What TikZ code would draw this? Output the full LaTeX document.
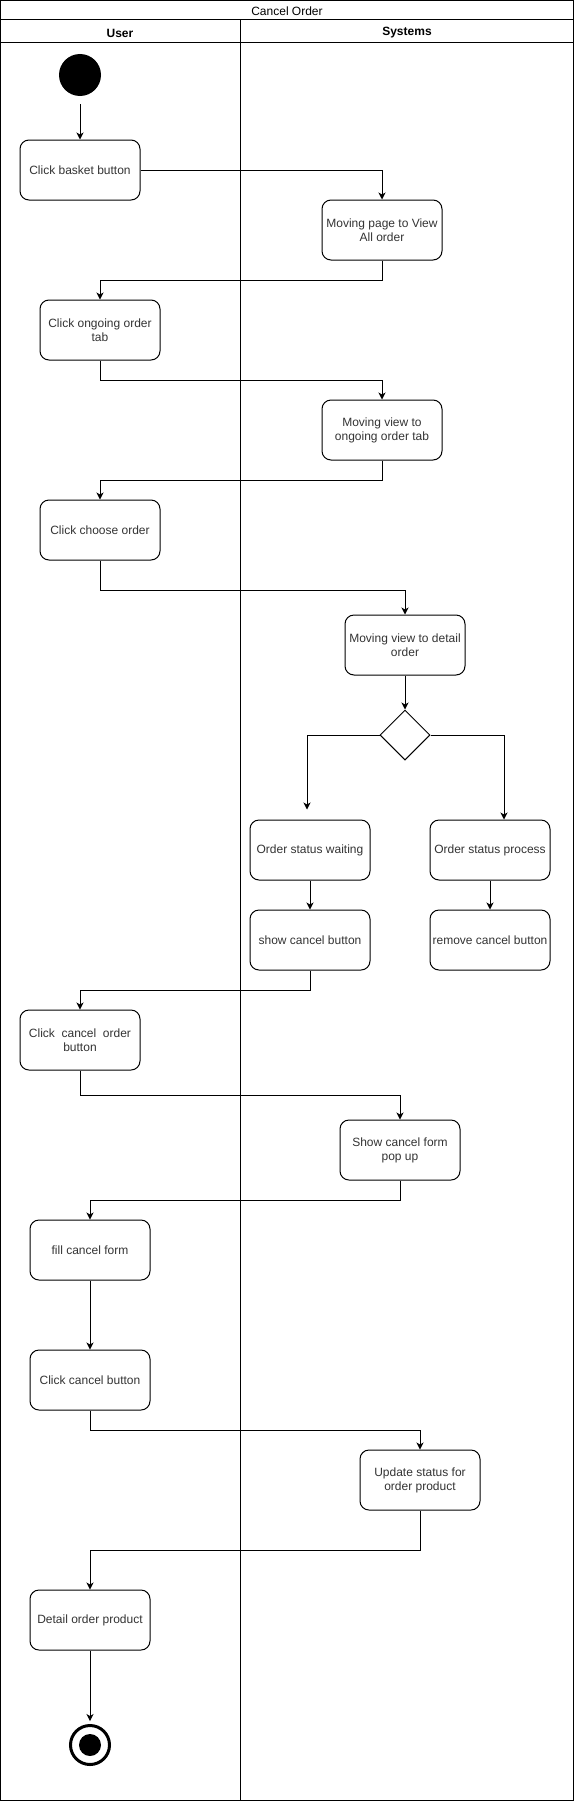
\documentclass[tikz,border=0pt]{standalone}
\usepackage{fontspec}
\setmainfont{Liberation Sans}
\usetikzlibrary{positioning, shapes.geometric, arrows.meta}
\definecolor{acttext}{HTML}{333333}

\begin{document}
\begin{tikzpicture}[x=1pt, y=-1pt,
      act/.style={rectangle, draw, line width=1pt, rounded corners=9pt,
        minimum width=120pt, minimum height=60pt, inner sep=2pt,
        align=center, text=acttext, font=\fontsize{12}{14}\selectfont},
      initst/.style={circle, fill=black, minimum size=42pt, inner sep=0pt},
      finalst/.style={circle, draw, line width=3pt, minimum size=39pt,
        inner sep=0pt, path picture={\fill[black]
        (path picture bounding box.center) circle (11pt);}},
      dec/.style={diamond, draw, line width=1pt, minimum size=50pt,
        inner sep=0pt, aspect=1},
      head/.style={font=\fontsize{12}{14}\selectfont},
      arr/.style={-{Stealth[length=7pt, width=7pt, inset=2pt]}, draw,
        line width=1pt}
    ]
    \useasboundingbox (0,0) rectangle (574,1801);
    % === Swimlane frame ===
    \draw[line width=1pt] (0.5,0.5) rectangle (573.5,1800.5);
    \draw[line width=1pt] (0.5,20) -- (573.5,20);
    \draw[line width=1pt] (0.5,43) -- (573.5,43);
    \draw[line width=1pt] (240,20) -- (240,1800.5);
    \node[head] (title) at (287,11.5) {Cancel Order};
    \node[head, font=\fontsize{12}{14}\selectfont\bfseries] (luser) at (120,33)
    {User};
    \node[head, font=\fontsize{12}{14}\selectfont\bfseries] (lsys) at (407,33)
    {Systems};
    % === Activities ===
    \node[initst] (start) at (80,75) {};
    \node[act] (basket) at (80,170) {Click basket button};
    \node[act] (allorder) at (382,230) {Moving page to View\\All order};
    \node[act] (ongoing) at (100,330) {Click ongoing order\\tab};
    \node[act] (viewtab) at (382,430) {Moving view to\\ongoing order tab};
    \node[act] (choose) at (100,530) {Click choose order};
    \node[act] (detail) at (405,645) {Moving view to detail\\order};
    \node[dec] (check) at (405,735) {};
    \node[act] (waiting) at (310,850) {Order status waiting};
    \node[act] (process) at (490,850) {Order status process};
    \node[act] (showbtn) at (310,940) {show cancel button};
    \node[act] (rmbtn) at (490,940) {remove cancel button};
    \node[act] (cancelord) at (80,1040) {Click\ \ cancel\ \ order\\button};
    \node[act] (popup) at (400,1150) {Show cancel form\\pop up};
    \node[act] (fillform) at (90,1250) {fill cancel form};
    \node[act] (clickcancel) at (90,1380) {Click cancel button};
    \node[act] (update) at (420,1480) {Update status for\\order product};
    \node[act] (detailprod) at (90,1620) {Detail order product};
    \node[finalst] (stop) at (90,1745) {};
    % === Flows ===
    \draw[arr, shorten <=8pt] (start.south) -- (basket.north);
    \draw[arr] (basket.east) -| (allorder.north);
    \draw[arr] (allorder.south) -- ++(0,20) -| (ongoing.north);
    \draw[arr] (ongoing.south) -- ++(0,20) -| (viewtab.north);
    \draw[arr] (viewtab.south) -- ++(0,20) -| (choose.north);
    \draw[arr] (choose.south) -- ++(0,30) -| (detail.north);
    \draw[arr] (detail.south) -- (check.north);
    \draw[arr, shorten >=10pt] (check.west) -| ([xshift=-3pt]waiting.north);
    \draw[arr] (check.east) -| ([xshift=14pt]process.north);
    \draw[arr] (waiting.south) -- (showbtn.north);
    \draw[arr] (process.south) -- (rmbtn.north);
    \draw[arr] (showbtn.south) -- ++(0,20) -| (cancelord.north);
    \draw[arr] (cancelord.south) -- ++(0,25) -| (popup.north);
    \draw[arr] (popup.south) -- ++(0,20) -| (fillform.north);
    \draw[arr] (fillform.south) -- (clickcancel.north);
    \draw[arr] (clickcancel.south) -- ++(0,20) -| (update.north);
    \draw[arr] (update.south) -- ++(0,40) -| (detailprod.north);
    \draw[arr, shorten >=3pt] (detailprod.south) -- (stop.north);
  \end{tikzpicture}
\end{document}
